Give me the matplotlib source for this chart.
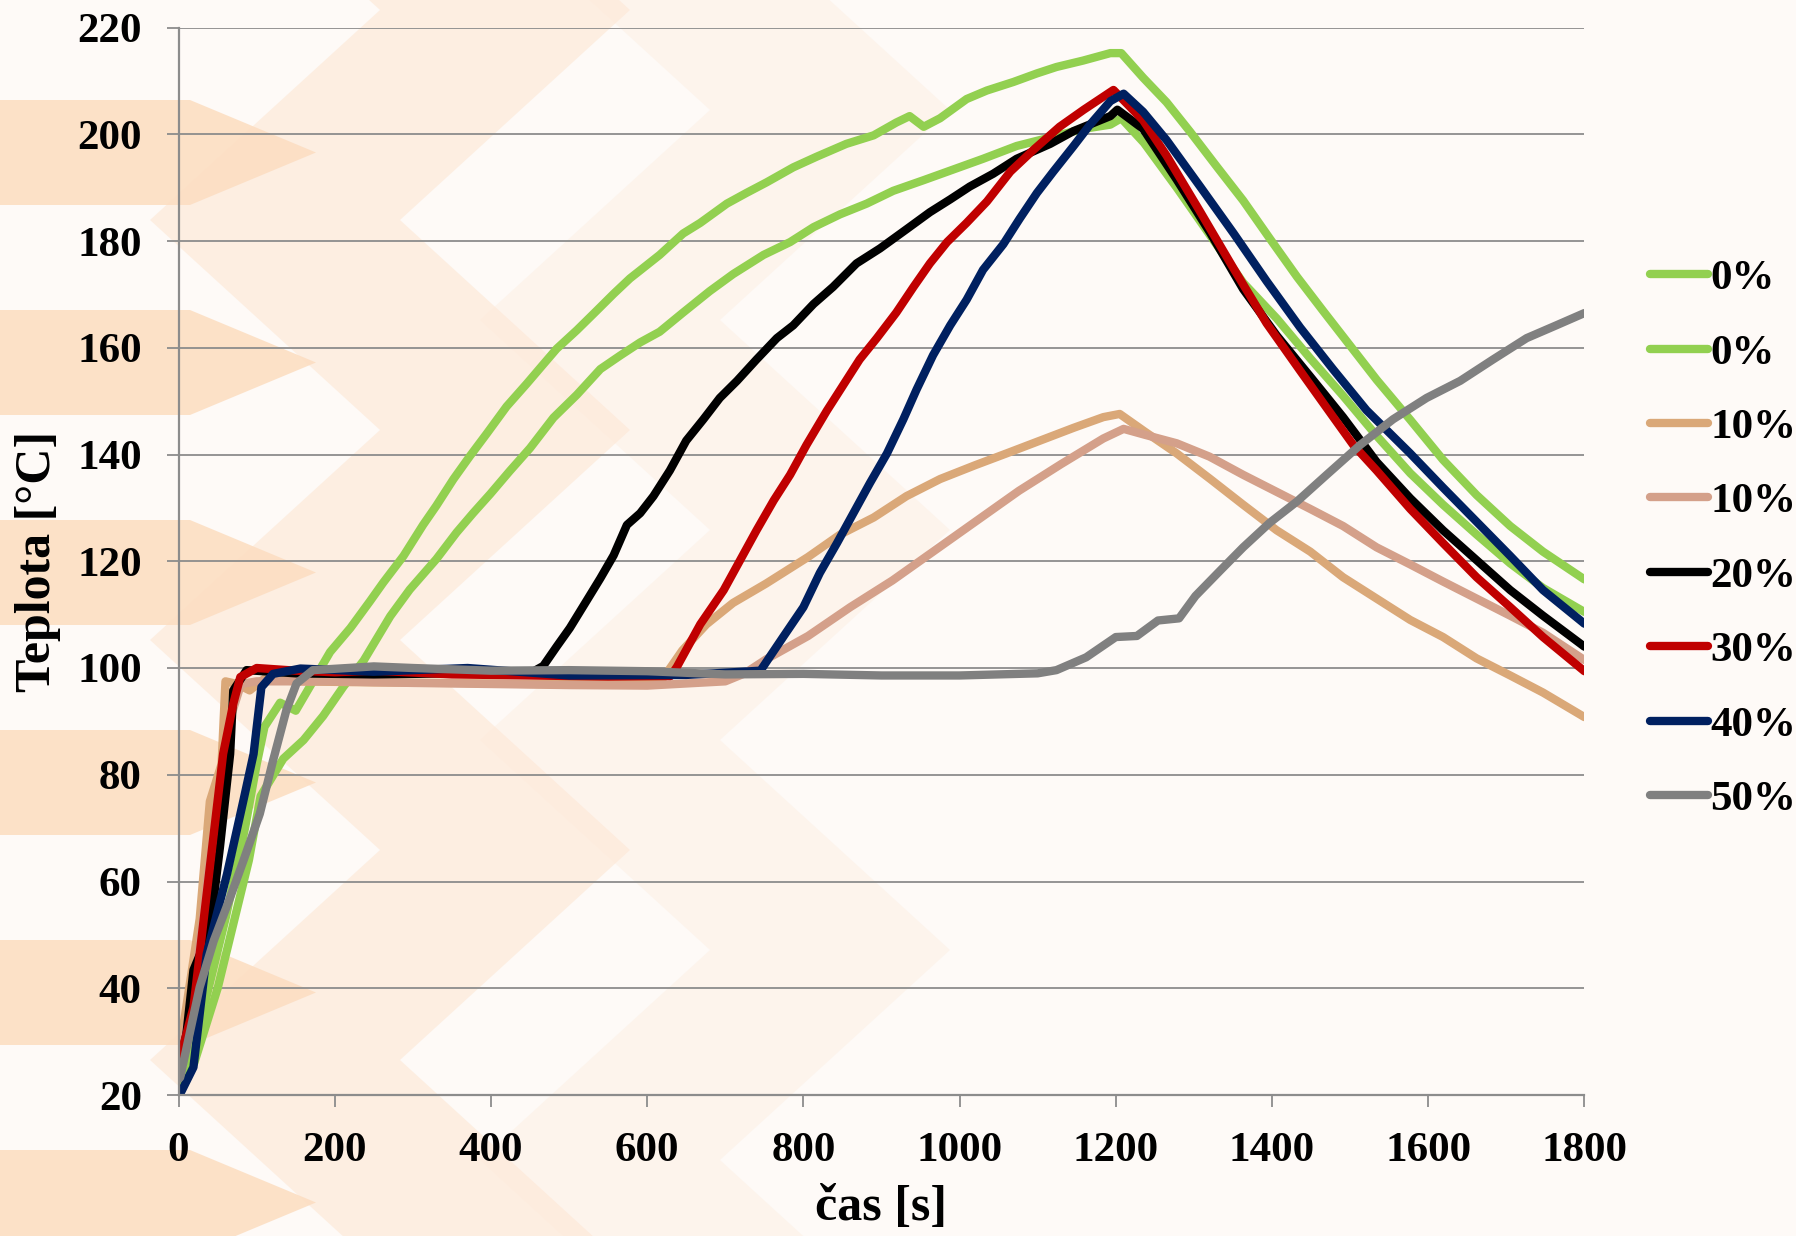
import matplotlib
matplotlib.use('Agg')
import matplotlib.pyplot as plt
from matplotlib.patches import Polygon

plt.rcParams['font.family'] = ['Liberation Serif', 'DejaVu Serif']
plt.rcParams['font.weight'] = 'bold'

# ---- data: time [s], temperature [degC] ----
t_0a = [0, 15, 35, 60, 85, 100, 110, 130, 150, 170, 194, 220, 245, 262, 288, 313, 330, 352, 373, 395,
        420, 446, 467, 484, 510, 535, 557, 578, 591, 616, 646, 668, 702, 727, 753, 787, 817, 855, 890,
        919, 936, 954, 975, 1009, 1035, 1069, 1099, 1124, 1158, 1193, 1207, 1235, 1265, 1295, 1329,
        1363, 1397, 1432, 1466, 1500, 1534, 1577, 1619, 1662, 1705, 1747, 1800]
T_0a = [25, 27, 38, 53, 70, 82, 89, 93.5, 92, 97, 103, 107.5, 112.5, 116, 121, 126.8, 130.4, 135.4, 139.7, 144,
        149, 153.3, 156.9, 159.8, 163.3, 166.9, 170.1, 173, 174.5, 177.4, 181.4, 183.4, 187, 189, 191, 193.8, 195.8, 198.2, 199.8,
        202.2, 203.4, 201.4, 203, 206.6, 208.2, 209.8, 211.4, 212.6, 213.8, 215.2, 215.2, 210.6, 206, 200.5, 194,
        187.6, 180.5, 173.3, 166.8, 160.4, 154, 146.5, 139, 132.4, 126.6, 121.8, 116.6]

t_0b = [0, 20, 50, 75, 90, 105, 134, 160, 185, 211, 237, 271, 296, 330, 356, 377, 399, 424, 450, 480,
        510, 540, 565, 591, 616, 646, 680, 710, 749, 783, 813, 847, 881, 915, 954, 992, 1030, 1073,
        1116, 1158, 1193, 1207, 1236, 1278, 1321, 1363, 1406, 1449, 1491, 1534, 1577, 1619, 1662,
        1705, 1747, 1800]
T_0b = [22, 26, 40, 55, 64, 76, 83, 86.5, 91, 96.5, 101.4, 109.7, 114.7, 120.4, 125.4, 129, 132.6, 136.9, 141.2, 146.9,
        151.2, 156, 158.5, 161, 163, 166.6, 170.6, 173.8, 177.4, 179.8, 182.6, 185, 187, 189.4, 191.4, 193.4, 195.4, 197.8,
        199.4, 201, 201.8, 203, 198.4, 190, 181, 172.2, 165.5, 158, 151, 143.5, 136.5, 130.6, 125, 119.6,
        115, 110.5]

t_10a = [0, 27, 40, 55, 60, 75, 91, 110, 150, 250, 350, 450, 550, 620, 645, 676, 710, 752, 806, 847,
         890, 932, 975, 1020, 1060, 1103, 1146, 1184, 1205, 1237, 1278, 1321, 1363, 1406, 1449, 1491,
         1534, 1577, 1619, 1662, 1705, 1747, 1800]
T_10a = [27, 53, 75, 82, 97.5, 97, 95.8, 98, 97.5, 97.3, 97.2, 97, 97, 98, 103.3, 108.2, 112.2, 115.8, 120.8, 125,
         128.2, 132.2, 135.4, 138, 140.2, 142.6, 145, 147, 147.6, 144.3, 140.2, 135.4, 130.6, 125.8, 121.8, 117,
         113, 109, 105.8, 101.8, 98.6, 95.4, 90.8]

t_10b = [0, 20, 35, 50, 65, 80, 100, 200, 300, 400, 500, 600, 700, 725, 752, 806, 860, 914, 968, 1022,
         1076, 1130, 1184, 1210, 1237, 1278, 1320, 1363, 1406, 1449, 1491, 1534, 1577, 1619, 1662, 1705,
         1747, 1800]
T_10b = [26, 40, 58, 75, 90, 97, 97.5, 97.5, 97.2, 97, 96.8, 96.7, 97.5, 99, 101.6, 106, 111.4, 116.4, 122, 127.6,
         133.2, 138.2, 143, 144.8, 143.7, 142.1, 139.6, 136.2, 133, 129.8, 126.6, 122.6, 119.4, 116.2, 113, 109.8,
         106.6, 101.5]

t_20 = [0, 10, 19, 40, 53, 66, 70, 87, 150, 250, 350, 450, 467, 484, 501, 522, 540, 557, 574, 591,
        608, 629, 650, 672, 693, 715, 740, 766, 787, 813, 838, 868, 898, 932, 962, 988, 1013, 1043,
        1073, 1116, 1146, 1193, 1202, 1235, 1278, 1321, 1363, 1406, 1449, 1491, 1534, 1577, 1619,
        1662, 1705, 1747, 1800]
T_20 = [25, 31.4, 43.4, 50.8, 66.5, 83.9, 95.8, 99.6, 99, 98.8, 99, 99, 100.4, 104, 107.5, 112.5, 116.8, 121.1, 126.8, 129,
        132.2, 137, 142.6, 146.6, 150.6, 153.8, 157.8, 161.8, 164.2, 168.2, 171.4, 175.8, 178.6, 182.2, 185.4, 187.8, 190.2, 192.6,
        195.4, 198.2, 200.6, 203.4, 204.6, 201, 191.5, 181.5, 171, 162.3, 154.6, 147, 138.6, 131.8, 125.8,
        120.2, 114.6, 109.8, 104]

t_30 = [0, 2, 19, 32, 45, 57, 70, 79, 100, 150, 200, 250, 350, 450, 550, 630, 638, 668, 698, 719,
        740, 762, 783, 804, 830, 851, 872, 894, 919, 941, 962, 984, 1009, 1035, 1065, 1094, 1128,
        1159, 1197, 1235, 1265, 1308, 1351, 1393, 1436, 1478, 1504, 1534, 1577, 1619, 1662, 1705,
        1747, 1800]
T_30 = [25, 27, 36.4, 52.7, 68.9, 83.9, 93.3, 98.3, 100, 99.5, 99.2, 99.5, 98.8, 98.6, 98.4, 98.5, 100.2, 108.2, 114.6, 120.2,
        125.8, 131.4, 136.2, 141.8, 148.2, 153, 157.8, 161.8, 166.6, 171.4, 175.8, 179.8, 183.4, 187.4, 193, 197, 201.4,
        204.6, 208.3, 202.6, 196, 185.5, 174.8, 164.6, 155.7, 147.1, 141.8, 137, 129.8, 123.4, 117, 111.4,
        105.8, 99.4]

t_40 = [0, 2, 19, 36, 62, 83, 96, 106, 121, 156, 250, 370, 500, 650, 745, 774, 800, 821, 843, 864,
        885, 907, 928, 945, 966, 988, 1009, 1030, 1056, 1077, 1099, 1120, 1146, 1167, 1193, 1210,
        1235, 1265, 1308, 1351, 1393, 1436, 1478, 1521, 1577, 1619, 1662, 1705, 1747, 1800]
T_40 = [20.5, 20.2, 25.2, 46.4, 61.4, 75.2, 83.9, 96.4, 98.9, 99.9, 99.3, 100, 98.6, 98.7, 99.5, 105.8, 111.4, 117.8, 123.4, 129,
        134.6, 140.2, 146.6, 152.2, 158.6, 164.2, 169, 174.6, 179.4, 184.2, 189, 193, 197.8, 201.8, 206.2, 207.6,
        204.2, 198.9, 190.2, 181.4, 172.5, 163.8, 156, 148.3, 140.2, 133.8, 127.4, 121, 114.6, 108.3]

t_50 = [0, 2, 27, 45, 66, 83, 104, 121, 138, 151, 172, 250, 300, 400, 500, 600, 700, 800, 900, 1000,
        1100, 1124, 1162, 1200, 1227, 1254, 1281, 1302, 1334, 1363, 1397, 1432, 1470, 1513, 1555,
        1598, 1641, 1683, 1726, 1764, 1800]
T_50 = [23, 23.3, 40.2, 48.9, 57, 63.9, 72.7, 82.7, 92.1, 97.1, 99.6, 100.3, 100, 99.5, 99.6, 99.4, 98.8, 98.9, 98.6, 98.6,
        99, 99.6, 102, 105.8, 106, 108.9, 109.3, 113.5, 118.3, 122.6, 127.2, 131.2, 136.2, 141.8, 146.6,
        150.6, 153.8, 157.8, 161.8, 164.2, 166.5]

labels = ['0%', '0%', '10%', '10%', '20%', '30%', '40%', '50%']
colors = ['#92D050', '#92D050', '#DAA878', '#D4A08A', '#000000', '#C00000', '#002060', '#808080']
series = [(t_0a, T_0a), (t_0b, T_0b), (t_10a, T_10a), (t_10b, T_10b),
          (t_20, T_20), (t_30, T_30), (t_40, T_40), (t_50, T_50)]

W, H = 1796, 1236
fig = plt.figure(figsize=(W / 100, H / 100), dpi=100)
fig.patch.set_facecolor('#FEFAF7')

# decorative background (chevron pattern, lighter to the right)
bg = fig.add_axes([0, 0, 1, 1], zorder=0)
bg.set_xlim(0, W); bg.set_ylim(H, 0); bg.axis('off')
for y0 in range(-110, H + 100, 210):
    h = 105
    pts = [(-20, y0), (190, y0), (190 + h * 1.2, y0 + h / 2), (190, y0 + h), (-20, y0 + h)]
    bg.add_patch(Polygon(pts, closed=True, fc='#FCD9B8', ec='none', alpha=0.75))
for y0 in range(-200, H + 200, 420):
    pts = [(150, y0), (400, y0), (400 + 230, y0 + 210), (400, y0 + 420), (150, y0 + 420), (150 + 230, y0 + 210)]
    bg.add_patch(Polygon(pts, closed=True, fc='#FCDDC2', ec='none', alpha=0.4))
for y0 in range(-100, H + 200, 420):
    pts = [(480, y0), (720, y0), (720 + 230, y0 + 210), (720, y0 + 420), (480, y0 + 420), (480 + 230, y0 + 210)]
    bg.add_patch(Polygon(pts, closed=True, fc='#FDE9D9', ec='none', alpha=0.35))

ax = fig.add_axes([178.6 / W, 1 - 1095 / H, 1405.8 / W, 1067.5 / H], zorder=1)
ax.set_facecolor('none')

for (t, T), c, lab in zip(series, colors, labels):
    ax.plot(t, T, color=c, lw=6.0, label=lab, solid_capstyle='round', solid_joinstyle='round')

ax.set_xlim(0, 1800)
ax.set_ylim(20, 220)
ax.set_xticks(range(0, 1801, 200))
ax.set_yticks(range(20, 221, 20))
ax.yaxis.grid(True, color='#8c8c8c', lw=1.3)
ax.set_axisbelow(True)
for s in ['top', 'right']:
    ax.spines[s].set_visible(False)
for s in ['left', 'bottom']:
    ax.spines[s].set_color('#8c8c8c')
    ax.spines[s].set_linewidth(1.6)
ax.tick_params(axis='both', direction='out', color='#8c8c8c', width=1.3, length=8.5,
               labelsize=31, pad=18)
for lbl in ax.get_xticklabels() + ax.get_yticklabels():
    lbl.set_fontweight('bold')

fig.text(881 / W, 1 - 1208 / H, 'čas [s]', ha='center', va='center', fontsize=36, fontweight='bold')
fig.text(38 / W, 1 - 561 / H, 'Teplota [°C]', ha='center', va='center', rotation=90,
         fontsize=36, fontweight='bold')

leg = ax.legend(loc='upper left', bbox_to_anchor=(1650 / W, 1 - 259 / H), bbox_transform=fig.transFigure,
                frameon=False, fontsize=31, handlelength=1.35, handletextpad=0.05, labelspacing=0.82,
                borderpad=0, borderaxespad=0)
for txt in leg.get_texts():
    txt.set_fontweight('bold')

fig.savefig('out.png', dpi=100, facecolor=fig.get_facecolor())
